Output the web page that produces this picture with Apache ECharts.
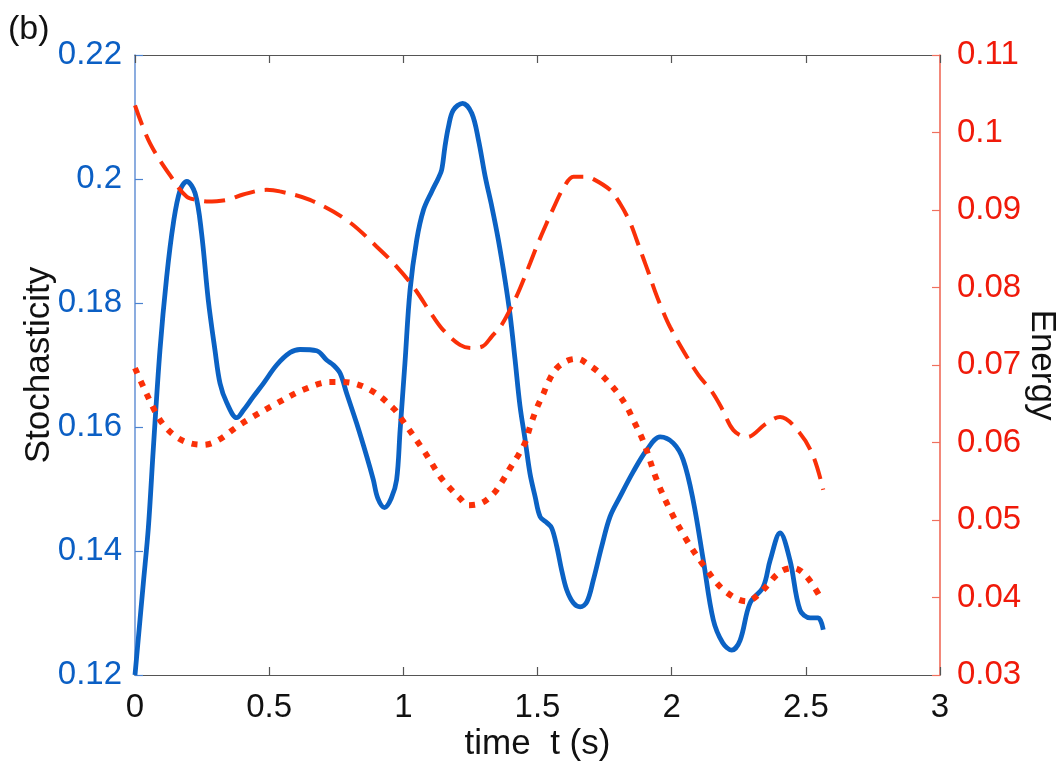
<!DOCTYPE html>
<html>
<head>
<meta charset="utf-8">
<script src="https://cdn.jsdelivr.net/npm/echarts@6.0.0/dist/echarts.min.js"></script>
<style>
html,body{margin:0;padding:0;background:#fff;}
#chart{width:1062px;height:775px;}
</style>
</head>
<body>
<div id="chart"></div>
<script>
// ---- data ----
const xTicks = [0, 0.5, 1, 1.5, 2, 2.5, 3];
const stochT = [0, 0.031, 0.05, 0.068, 0.093, 0.118, 0.143, 0.168, 0.193, 0.224, 0.248, 0.273, 0.298, 0.317, 0.342, 0.379, 0.404, 0.441, 0.478, 0.528, 0.578, 0.615, 0.677, 0.714, 0.739, 0.764, 0.789, 0.826, 0.864, 0.888, 0.905, 0.93, 0.955, 0.975, 0.988, 1.006, 1.025, 1.05, 1.075, 1.106, 1.13, 1.143, 1.155, 1.168, 1.186, 1.221, 1.255, 1.28, 1.305, 1.33, 1.354, 1.379, 1.398, 1.416, 1.435, 1.454, 1.472, 1.491, 1.51, 1.534, 1.553, 1.572, 1.59, 1.609, 1.634, 1.659, 1.684, 1.708, 1.739, 1.77, 1.808, 1.857, 1.907, 1.957, 2.006, 2.043, 2.08, 2.118, 2.155, 2.19, 2.224, 2.255, 2.292, 2.341, 2.367, 2.404, 2.441, 2.478, 2.516, 2.546, 2.565];
const stochV = [0.12, 0.1348, 0.1439, 0.1563, 0.1724, 0.1842, 0.1929, 0.1982, 0.1996, 0.1977, 0.1913, 0.1805, 0.1724, 0.167, 0.1639, 0.1615, 0.1627, 0.1649, 0.167, 0.17, 0.172, 0.1725, 0.1723, 0.1708, 0.17, 0.1687, 0.1654, 0.1606, 0.1552, 0.1515, 0.1485, 0.147, 0.1485, 0.1515, 0.1595, 0.1703, 0.1821, 0.1902, 0.195, 0.198, 0.2001, 0.2015, 0.2052, 0.2084, 0.2111, 0.2122, 0.2106, 0.2063, 0.2004, 0.1955, 0.1902, 0.1837, 0.178, 0.171, 0.1633, 0.1579, 0.1525, 0.1488, 0.1455, 0.1446, 0.1437, 0.1407, 0.1369, 0.1337, 0.1316, 0.131, 0.1318, 0.1353, 0.1407, 0.1455, 0.1488, 0.1528, 0.1563, 0.1584, 0.1574, 0.1547, 0.1482, 0.1385, 0.1289, 0.1252, 0.124, 0.1256, 0.1316, 0.1342, 0.1385, 0.1429, 0.1385, 0.1305, 0.1292, 0.1292, 0.1273];
const energyDashT = [0, 0.056, 0.142, 0.193, 0.23, 0.267, 0.342, 0.403, 0.49, 0.54, 0.652, 0.789, 0.9, 0.975, 1.037, 1.112, 1.149, 1.211, 1.255, 1.295, 1.33, 1.367, 1.41, 1.435, 1.472, 1.497, 1.534, 1.559, 1.596, 1.634, 1.677, 1.702, 1.77, 1.808, 1.845, 1.87, 1.894, 1.913, 1.938, 1.963, 1.994, 2.056, 2.1, 2.149, 2.187, 2.23, 2.28, 2.354, 2.404, 2.478, 2.528, 2.565];
const energyDashV = [0.1035, 0.0986, 0.0939, 0.0917, 0.0913, 0.0911, 0.0913, 0.092, 0.0926, 0.0924, 0.0913, 0.0887, 0.0853, 0.0827, 0.0801, 0.0762, 0.0745, 0.0726, 0.0722, 0.0724, 0.0737, 0.0752, 0.078, 0.0799, 0.0831, 0.0853, 0.0883, 0.0902, 0.0928, 0.0943, 0.0943, 0.0941, 0.0926, 0.0908, 0.0884, 0.0861, 0.0838, 0.082, 0.0795, 0.0773, 0.0749, 0.0711, 0.0687, 0.0666, 0.0644, 0.0616, 0.0607, 0.0625, 0.0633, 0.0612, 0.0582, 0.0539];
const energyDotT = [0, 0.031, 0.075, 0.106, 0.155, 0.205, 0.255, 0.31, 0.379, 0.429, 0.515, 0.627, 0.727, 0.776, 0.876, 0.963, 1.0, 1.075, 1.106, 1.137, 1.174, 1.211, 1.242, 1.292, 1.336, 1.367, 1.398, 1.429, 1.454, 1.472, 1.497, 1.522, 1.54, 1.572, 1.615, 1.65, 1.684, 1.727, 1.764, 1.801, 1.833, 1.857, 1.895, 1.944, 1.994, 2.056, 2.118, 2.193, 2.28, 2.33, 2.404, 2.454, 2.503, 2.559];
const energyDotV = [0.0696, 0.0672, 0.064, 0.0623, 0.0607, 0.0599, 0.0597, 0.0603, 0.062, 0.0631, 0.0648, 0.0668, 0.0678, 0.0678, 0.0668, 0.0644, 0.0627, 0.059, 0.0573, 0.0556, 0.0541, 0.0528, 0.0519, 0.0522, 0.0534, 0.0549, 0.0567, 0.0584, 0.06, 0.062, 0.0644, 0.0663, 0.0678, 0.0696, 0.0706, 0.0708, 0.0702, 0.0691, 0.0678, 0.0663, 0.0646, 0.0629, 0.0601, 0.0552, 0.0513, 0.0474, 0.0442, 0.041, 0.0395, 0.0406, 0.0433, 0.0438, 0.0427, 0.0397];

const FONT = "'Liberation Sans', Arial, Helvetica, sans-serif";
const pairs = (a, b) => a.map((t, i) => [t, b[i]]);
const fmt = v => String(parseFloat(Number(v).toFixed(3)));

const chart = echarts.init(document.getElementById('chart'), null, {renderer: 'canvas'});
chart.setOption({
  animation: false,
  backgroundColor: '#fff',
  textStyle: {fontFamily: FONT},
  title: {text: '(b)', left: 3, top: 8, textStyle: {fontFamily: FONT, fontSize: 34, fontWeight: 'normal', color: '#111'}},
  grid: {left: 135, right: 122, top: 55, bottom: 100, containLabel: false, outerBoundsMode: 'none'},
  xAxis: [{
    type: 'value', min: xTicks[0], max: xTicks[xTicks.length - 1], interval: 0.5, position: 'bottom',
    axisLine: {onZero: false, lineStyle: {color: '#555', width: 1.2}},
    axisTick: {show: true, inside: true, length: 8, lineStyle: {color: '#555', width: 1.2}},
    axisLabel: {color: '#111', fontSize: 33, margin: 16, fontFamily: FONT, formatter: fmt},
    splitLine: {show: false},
    name: 'time  t (s)', nameLocation: 'middle', nameGap: 52, nameMoveOverlap: false,
    nameTextStyle: {color: '#111', fontSize: 35, fontFamily: FONT}
  }, {
    type: 'value', min: 0, max: 3, interval: 0.5, position: 'top',
    axisLine: {onZero: false, lineStyle: {color: '#555', width: 1.2}},
    axisTick: {show: true, inside: true, length: 8, lineStyle: {color: '#555', width: 1.2}},
    axisLabel: {show: false}, splitLine: {show: false}
  }],
  yAxis: [{
    type: 'value', min: 0.12, max: 0.22, interval: 0.02, position: 'left',
    axisLine: {show: true, onZero: false, lineStyle: {color: '#6f98d8', width: 1.6}},
    axisTick: {show: true, inside: true, length: 8, lineStyle: {color: '#4a82d0', width: 1.2}},
    axisLabel: {color: '#0b5fc4', fontSize: 33, margin: 13, fontFamily: FONT, formatter: fmt},
    splitLine: {show: false},
    name: 'Stochasticity', nameLocation: 'middle', nameGap: 78, nameRotate: 90, nameMoveOverlap: false,
    nameTextStyle: {color: '#111', fontSize: 35, fontFamily: FONT}
  }, {
    type: 'value', min: 0.03, max: 0.11, interval: 0.01, position: 'right',
    axisLine: {show: true, onZero: false, lineStyle: {color: '#f06a58', width: 1.6}},
    axisTick: {show: true, inside: true, length: 8, lineStyle: {color: '#f0705e', width: 1.2}},
    axisLabel: {color: '#f01a0a', fontSize: 33, margin: 17, fontFamily: FONT, formatter: fmt},
    splitLine: {show: false},
    name: 'Energy', nameLocation: 'middle', nameGap: 84, nameRotate: -90, nameMoveOverlap: false,
    nameTextStyle: {color: '#111', fontSize: 35, fontFamily: FONT}
  }],
  series: [{
    name: 'Stochasticity', type: 'line', xAxisIndex: 0, yAxisIndex: 0,
    data: pairs(stochT, stochV), showSymbol: false, smooth: 0.35,
    lineStyle: {color: '#0b62c4', width: 4.8}, z: 2
  }, {
    name: 'Energy (dashed)', type: 'line', xAxisIndex: 0, yAxisIndex: 1,
    data: pairs(energyDashT, energyDashV), showSymbol: false, smooth: 0.35,
    lineStyle: {color: '#fa3008', width: 4, type: [21, 10], cap: 'butt'}, z: 3
  }, {
    name: 'Energy (dotted)', type: 'line', xAxisIndex: 0, yAxisIndex: 1,
    data: pairs(energyDotT, energyDotV), showSymbol: false, smooth: 0.35,
    lineStyle: {color: '#fa3008', width: 6, type: [6, 8], cap: 'butt'}, z: 3
  }]
});
</script>
</body>
</html>
